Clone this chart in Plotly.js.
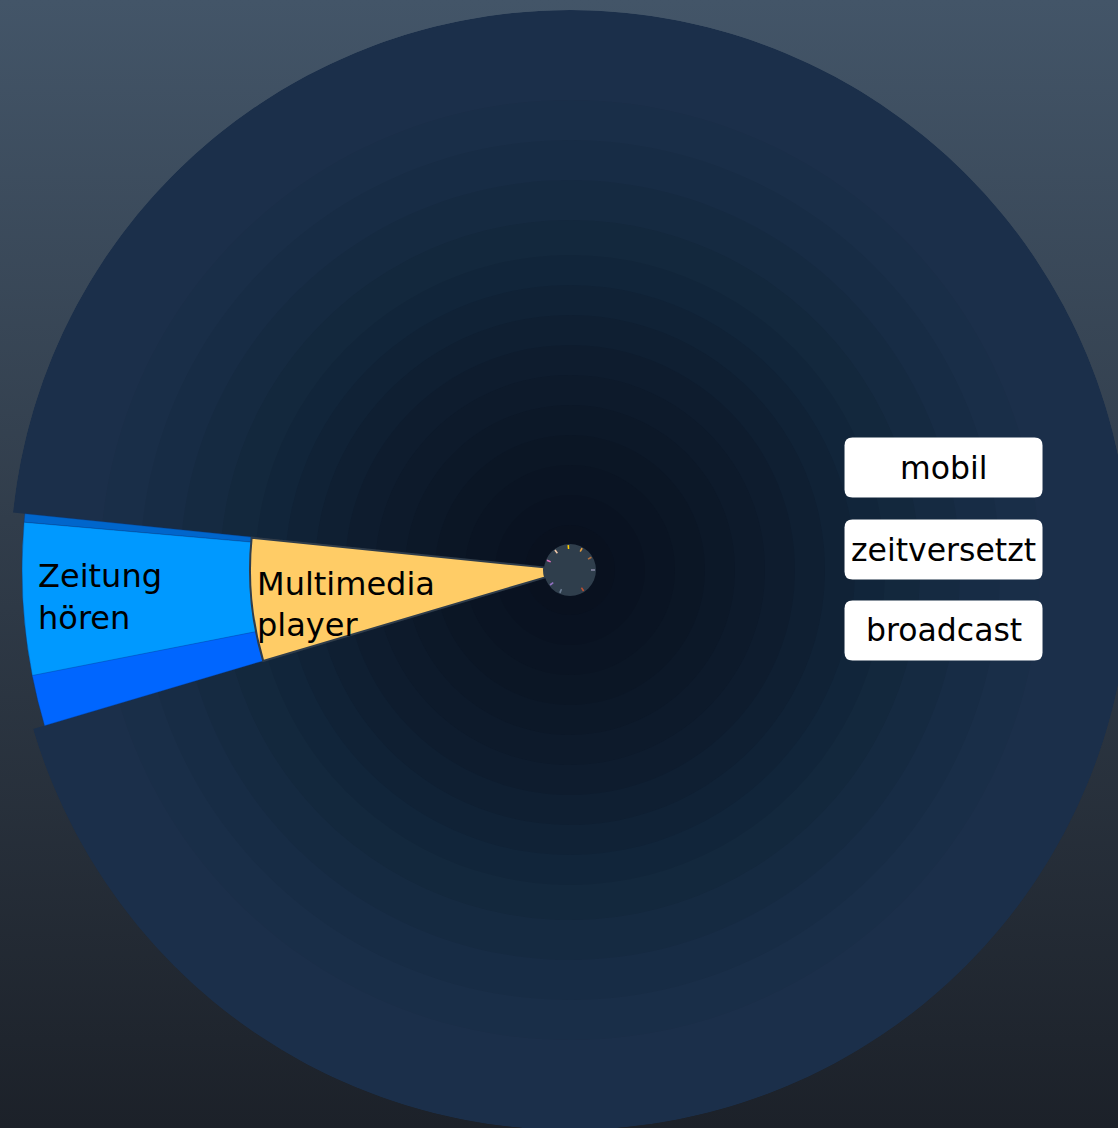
<!DOCTYPE html>
<html>
<head>
<meta charset="utf-8">
<script src="https://cdn.plot.ly/plotly-3.0.1.min.js"></script>
<style>
  html, body { margin: 0; padding: 0; overflow: hidden; width: 1118px; height: 1128px;
    background: linear-gradient(to bottom, #435568 0%, #1c2129 100%); }
  #chart { width: 1140px; height: 1140px; }
</style>
</head>
<body>
<div id="chart"></div>
<script>
// ---- data (angles in degrees, counter-clockwise from east) ----
const restName = 'übrige';
const restTheta = [5.3];
const restWidth = [337.6];

const innerNames = ['Multimedia player'];
const innerTheta = [185.35];
const innerWidth = [22.3];
const innerColors = ['#ffcc66'];

const outerNames = ['', 'Zeitung hören', ''];
const outerTheta = [174.55, 183.1, 193.8];
const outerWidth = [0.9, 16.2, 5.4];
const outerColors = ['#0066cc', '#0099ff', '#0066ff'];

const tickTheta = [94, 61, 31, 0, 303, 246, 217, 157, 127];
const tickColors = ['#ffcc00', '#e8a040', '#b07040', '#8a8aa8', '#c05030', '#6a7a90', '#9070c0', '#e070c0', '#f0c8a8'];

const labelText = ['Zeitung<br>hören', 'Multimedia<br>player'];
const labelTheta = [183.23, 186.8];
const labelR = [532.8, 315.2];

const buttonLabels = ['mobil', 'zeitversetzt', 'broadcast'];

// ---- geometry / style constants ----
const ROOT_R = 26, INNER_R = 320, OUTER_R = 548, DISC_R = 560;
const gradRadii = [470, 430, 390, 350, 315, 285, 255, 225, 195, 165, 135, 105, 75, 45];
const gradAlpha = [0.04, 0.05, 0.06, 0.07, 0.08, 0.09, 0.1, 0.1, 0.1, 0.1, 0.1, 0.1, 0.1, 0.1];

const traces = [];
// dark disc (remaining slices)
traces.push({
  type: 'barpolar', name: restName, theta: restTheta, width: restWidth,
  base: restTheta.map(() => 0), r: restTheta.map(() => DISC_R),
  marker: {color: '#1b2f4a', line: {width: 0}}, hoverinfo: 'skip'
});
// darkening towards centre
traces.push({
  type: 'barpolar', theta: gradRadii.map(() => restTheta[0]), width: gradRadii.map(() => restWidth[0]),
  base: gradRadii.map(() => 0), r: gradRadii,
  marker: {color: gradAlpha.map(a => 'rgba(6,13,20,' + a + ')'), line: {width: 0}}, hoverinfo: 'skip'
});
// outer ring
traces.push({
  type: 'barpolar', name: 'outer', theta: outerTheta, width: outerWidth,
  base: outerTheta.map(() => INNER_R), r: outerTheta.map(() => OUTER_R - INNER_R),
  text: outerNames,
  marker: {color: outerColors, line: {width: 0.6, color: 'rgba(0,60,140,0.6)'}}, hoverinfo: 'text'
});
// inner ring
traces.push({
  type: 'barpolar', name: 'inner', theta: innerTheta, width: innerWidth,
  base: innerTheta.map(() => ROOT_R), r: innerTheta.map(() => INNER_R - ROOT_R),
  text: innerNames,
  marker: {color: innerColors, line: {width: 2, color: '#2f3c4a'}}, hoverinfo: 'text'
});
// root
traces.push({
  type: 'barpolar', theta: [0], width: [360], base: [0], r: [ROOT_R],
  marker: {color: '#2f3e4c', line: {width: 0}}, hoverinfo: 'skip'
});
// tiny child slices at root rim
traces.push({
  type: 'barpolar', theta: tickTheta, width: tickTheta.map(() => 4),
  base: tickTheta.map(() => ROOT_R - 5), r: tickTheta.map(() => 4),
  marker: {color: tickColors, line: {width: 0}}, hoverinfo: 'skip'
});
// labels
traces.push({
  type: 'scatterpolar', mode: 'text', r: labelR, theta: labelTheta, text: labelText,
  textposition: 'middle right', cliponaxis: false,
  textfont: {family: 'DejaVu Sans', size: 32, color: '#000000'}, hoverinfo: 'skip'
});

// buttons
const btnX = 0.8335;
const btnY = [0.5915, 0.5183, 0.4460];
const rr = 'M -91 -30 L 91 -30 Q 99 -30 99 -22 L 99 22 Q 99 30 91 30 L -91 30 Q -99 30 -99 22 L -99 -22 Q -99 -30 -91 -30 Z';
const shapes = buttonLabels.map((b, i) => ({
  type: 'path', xref: 'paper', yref: 'paper', xsizemode: 'pixel', ysizemode: 'pixel',
  xanchor: btnX, yanchor: btnY[i], path: rr, fillcolor: '#ffffff', line: {width: 0}, layer: 'above'
}));
const annotations = buttonLabels.map((b, i) => ({
  text: b, xref: 'paper', yref: 'paper', x: btnX, y: btnY[i], xanchor: 'center', yanchor: 'middle',
  showarrow: false, font: {family: 'DejaVu Sans', size: 31.5, color: '#000000'}
}));

const layout = {
  width: 1140, height: 1140,
  margin: {l: 10, r: 10, t: 10, b: 10},
  paper_bgcolor: 'rgba(0,0,0,0)', plot_bgcolor: 'rgba(0,0,0,0)',
  showlegend: false,
  polar: {
    domain: {x: [0, 1], y: [0, 1]},
    bgcolor: 'rgba(0,0,0,0)',
    radialaxis: {visible: false, range: [0, DISC_R]},
    angularaxis: {visible: false, direction: 'counterclockwise', rotation: 0},
    bargap: 0
  },
  shapes: shapes,
  annotations: annotations,
  font: {family: 'DejaVu Sans'}
};

Plotly.newPlot('chart', traces, layout, {displayModeBar: false, staticPlot: false});
</script>
</body>
</html>
